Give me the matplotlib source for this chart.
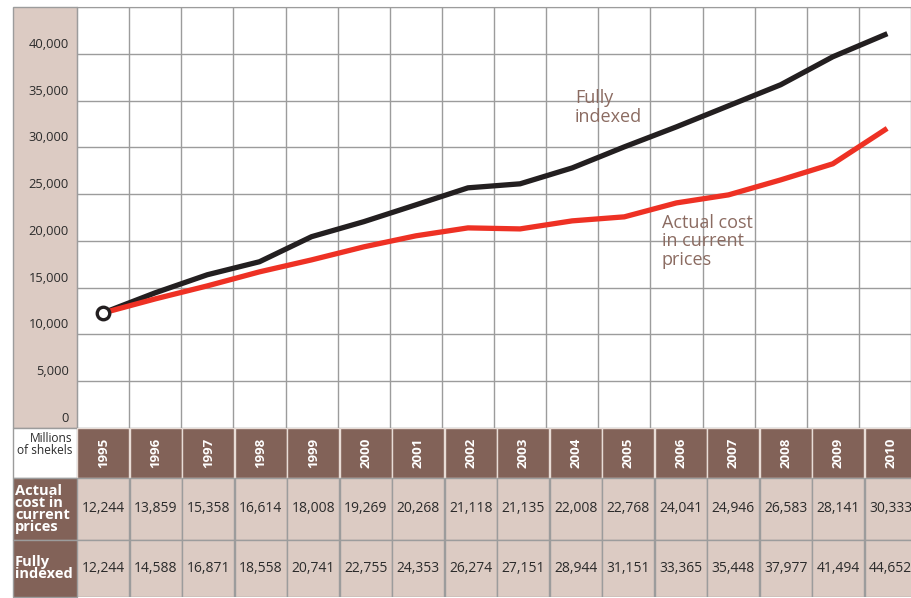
import matplotlib
matplotlib.use("Agg")
import matplotlib.pyplot as plt
from matplotlib.patches import Rectangle

plt.rcParams['font.family'] = ['Open Sans', 'DejaVu Sans']

# values in the table
years = list(range(1995, 2011))
actual_table = [12244, 13859, 15358, 16614, 18008, 19269, 20268, 21118,
                21135, 22008, 22768, 24041, 24946, 26583, 28141, 30333]
indexed_table = [12244, 14588, 16871, 18558, 20741, 22755, 24353, 26274,
                 27151, 28944, 31151, 33365, 35448, 37977, 41494, 44652]

# values as drawn by the lines
actual_line = [12300, 13800, 15190, 16690, 17970, 19360, 20540, 21390,
               21280, 22140, 22570, 24060, 24920, 26520, 28240, 31870]
indexed_line = [12300, 14450, 16380, 17770, 20450, 22050, 23850, 25670,
                26100, 27800, 30050, 32190, 34440, 36690, 39680, 42040]

y_ticks = list(range(0, 45001, 5000))
row_labels = ['Actual\ncost in\ncurrent\nprices', 'Fully\nindexed']
unit_label = 'Millions\nof shekels'

PINK = '#dccbc3'
BROWN = '#826258'
GRID = '#9c9c9c'
TXT = '#2b2b2b'
NOTE = '#8b6b61'

W, H = 911, 598
fig = plt.figure(figsize=(W / 100, H / 100), dpi=100)


def box(l, t, r, b):
    return [l / W, 1 - b / H, (r - l) / W, (b - t) / H]


# background axes in pixels for the left label column
bg = fig.add_axes([0, 0, 1, 1])
bg.set_xlim(0, W)
bg.set_ylim(H, 0)
bg.axis('off')
bg.add_patch(Rectangle((13, 7), 64, 421, fc=PINK, ec=GRID, lw=1))
bg.add_patch(Rectangle((13, 428), 64, 50, fc='white', ec=GRID, lw=1))
bg.add_patch(Rectangle((13, 478), 64, 62, fc=BROWN, ec=GRID, lw=1))
bg.add_patch(Rectangle((13, 540), 64, 57, fc=BROWN, ec=GRID, lw=1))
bg.text(72, 445, unit_label, ha='right', va='center', fontsize=8.6,
        color=TXT, linespacing=0.9)
bg.text(15, 509, row_labels[0], ha='left', va='center', fontsize=10.5,
        color='white', fontweight='bold', linespacing=0.82)
bg.text(15, 568, row_labels[1], ha='left', va='center', fontsize=10.5,
        color='white', fontweight='bold', linespacing=0.82)

x0, x1 = 1994.5, 1994.5 + 834 / 52.5
edges = [y - 0.5 for y in years] + [years[-1] + 0.5]

# line chart
ax = fig.add_axes(box(77, 7, 911, 428))
ax.set_xlim(x0, x1)
ax.set_ylim(0, 45000)
ax.set_xticks(edges)
ax.set_yticks(y_ticks)
ax.tick_params(length=0, labelleft=False, labelbottom=False)
ax.grid(True, color=GRID, lw=1)
for s in ax.spines.values():
    s.set_color(GRID)
ax.spines['right'].set_visible(False)

for v in y_ticks[:-1]:
    ax.annotate(f'{v:,}', xy=(0, v), xycoords=ax.get_yaxis_transform(),
                xytext=(-8, 3), textcoords='offset pixels', ha='right',
                va='bottom', fontsize=9.3, color=TXT, annotation_clip=False)

ax.plot(years, indexed_line, color='#231f20', lw=3.8, zorder=3)
ax.plot(years, actual_line, color='#ee3124', lw=3.8, zorder=4)
ax.plot(years[0], actual_line[0], 'o', mfc='white', mec='#231f20',
        ms=9, mew=2.4, zorder=5)

ax.text(2004.05, 36200, 'Fully\nindexed', ha='left', va='top',
        fontsize=13, color=NOTE, linespacing=1.05)
ax.text(2005.72, 22900, 'Actual cost\nin current\nprices', ha='left',
        va='top', fontsize=13, color=NOTE, linespacing=1.05)

# data table under the chart, sharing the year scale
tb = fig.add_axes(box(77, 428, 911, 597))
tb.set_xlim(x0, x1)
tb.set_ylim(169, 0)
tb.axis('off')
rows = [(0, 50), (50, 112), (112, 169)]
for i, yr in enumerate(years):
    tb.add_patch(Rectangle((yr - 0.5, 0), 1, 50, fc=BROWN, ec='#e8dcd6', lw=1))
    tb.text(yr, 25, str(yr), rotation=90, ha='center', va='center',
            fontsize=9.5, color='white', fontweight='bold')
    for (t, b), vals in zip(rows[1:], [actual_table, indexed_table]):
        tb.add_patch(Rectangle((yr - 0.5, t), 1, b - t, fc=PINK, ec=GRID, lw=1))
        tb.text(yr, (t + b) / 2, f'{vals[i]:,}', ha='center', va='center',
                fontsize=10, color=TXT, clip_on=True)

fig.savefig('out.png', dpi=100)
